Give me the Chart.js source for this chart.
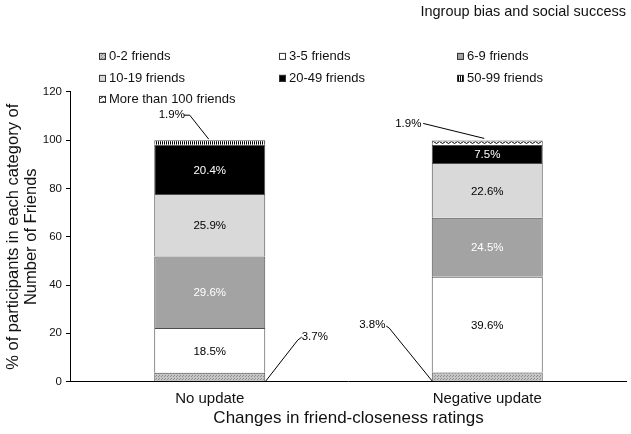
<!DOCTYPE html>
<html>
<head>
<meta charset="utf-8">
<script src="https://cdn.jsdelivr.net/npm/chart.js@4.4.0/dist/chart.umd.min.js"></script>
<style>
  html, body { margin: 0; padding: 0; background: #fff; }
  #wrap { width: 631px; height: 434px; }
</style>
</head>
<body>
<div id="wrap"><canvas id="friendsChart"></canvas></div>
<script>
// values (% of participants)
const categories = ['No update', 'Negative update'];
const groupNames = ['0-2 friends', '3-5 friends', '6-9 friends', '10-19 friends', '20-49 friends', '50-99 friends', 'More than 100 friends'];
const friends0to2 = [3.7, 3.8];
const friends3to5 = [18.5, 39.6];
const friends6to9 = [29.6, 24.5];
const friends10to19 = [25.9, 22.6];
const friends20to49 = [20.4, 7.5];
const friends50to99 = [1.9, 0];
const friends100plus = [0, 1.9];
const yTicks = [0, 20, 40, 60, 80, 100, 120];

const FONT = '"Liberation Sans", Arial, sans-serif';

function makePattern(w, h, draw) {
  const c = document.createElement('canvas');
  c.width = w; c.height = h;
  const g = c.getContext('2d');
  draw(g);
  return g.createPattern(c, 'repeat');
}

const stipple = makePattern(3, 3, g => {
  g.fillStyle = '#c6c6c6'; g.fillRect(0, 0, 3, 3);
  g.fillStyle = '#8c8c8c'; g.fillRect(0, 0, 1, 1); g.fillRect(2, 1, 1, 1);
});
const stripes = makePattern(2, 1, g => {
  g.fillStyle = '#fff'; g.fillRect(0, 0, 2, 1);
  g.fillStyle = '#000'; g.fillRect(0, 0, 1, 1);
});
const waves = makePattern(6, 5, g => {
  g.fillStyle = '#fff'; g.fillRect(0, 0, 6, 5);
  g.strokeStyle = '#000'; g.lineWidth = 1;
  g.beginPath();
  g.moveTo(0, 2.5);
  g.quadraticCurveTo(1.5, 0.5, 3, 2.5);
  g.quadraticCurveTo(4.5, 4.5, 6, 2.5);
  g.stroke();
});

const seriesValues = [friends0to2, friends3to5, friends6to9, friends10to19, friends20to49, friends50to99, friends100plus];
const fills = [stipple, '#ffffff', '#a3a3a3', '#d9d9d9', '#000000', stripes, waves];
const labelColors = ['#000', '#000', '#fff', '#000', '#fff', '#000', '#000'];

const datasets = groupNames.map((name, i) => ({
  label: name,
  data: seriesValues[i],
  backgroundColor: fills[i],
  borderColor: '#4d4d4d',
  borderWidth: c => (c.raw ? 1 : 0),
  stack: 'all',
  categoryPercentage: 0.8,
  barPercentage: 0.5
}));

// label offsets for the small segments that get a leader line
// anchor 'top' = top of segment, 'base' = bottom of segment
const callouts = {
  '0-0': { anchor: 'base', label: [105, -44], path: [[92, -44], [88, -41], [56, 0]] },
  '0-1': { anchor: 'base', label: [-115, -56], path: [[-101, -55], [-98, -53], [-55, 0]] },
  '5-0': { anchor: 'top', label: [-38, -25], path: [[-26, -25], [-20, -25], [-1, -1]] },
  '6-1': { anchor: 'top', label: [-79, -17], path: [[-64, -17], [-3, -2]] }
};

const segmentLabels = {
  id: 'segmentLabels',
  afterDatasetsDraw(chart) {
    const ctx = chart.ctx;
    ctx.save();
    ctx.font = '11.5px ' + FONT;
    ctx.textAlign = 'center';
    ctx.textBaseline = 'middle';
    chart.data.datasets.forEach((ds, di) => {
      const meta = chart.getDatasetMeta(di);
      meta.data.forEach((bar, i) => {
        const v = ds.data[i];
        if (!v) return;
        const text = v.toFixed(1) + '%';
        const co = callouts[di + '-' + i];
        if (!co) {
          ctx.fillStyle = labelColors[di];
          ctx.fillText(text, bar.x, (bar.y + bar.base) / 2 + 1);
          return;
        }
        const ay = co.anchor === 'top' ? bar.y : bar.base;
        ctx.fillStyle = '#000';
        ctx.fillText(text, bar.x + co.label[0], ay + co.label[1]);
        ctx.strokeStyle = '#000';
        ctx.lineWidth = 1;
        ctx.beginPath();
        co.path.forEach((p, k) => {
          const px = bar.x + p[0], py = ay + p[1];
          if (k === 0) ctx.moveTo(px, py); else ctx.lineTo(px, py);
        });
        ctx.stroke();
      });
    });
    ctx.restore();
  }
};

// three-column legend like the original figure
const gridLegend = {
  id: 'gridLegend',
  afterDraw(chart) {
    const ctx = chart.ctx;
    const area = chart.chartArea;
    const colX = [28, 208, 386];
    const rowY = [-35, -13, 8];
    ctx.save();
    ctx.font = '13px ' + FONT;
    ctx.textBaseline = 'middle';
    ctx.textAlign = 'left';
    chart.data.datasets.forEach((ds, i) => {
      const x = area.left + colX[i % 3];
      const y = area.top + rowY[Math.floor(i / 3)];
      ctx.fillStyle = ds.backgroundColor;
      ctx.fillRect(x, y - 4, 7, 7);
      ctx.strokeStyle = '#333';
      ctx.lineWidth = 1;
      ctx.strokeRect(x + 0.5, y - 3.5, 6, 6);
      ctx.fillStyle = '#111';
      ctx.fillText(ds.label, x + 10, y);
    });
    ctx.restore();
  }
};

new Chart(document.getElementById('friendsChart'), {
  type: 'bar',
  data: { labels: categories, datasets: datasets },
  plugins: [segmentLabels, gridLegend],
  options: {
    responsive: true,
    maintainAspectRatio: false,
    animation: false,
    layout: { padding: { left: 2, right: 5, top: 0, bottom: 5 } },
    plugins: {
      legend: { display: false },
      tooltip: { enabled: false },
      title: {
        display: true,
        text: 'Ingroup bias and social success',
        align: 'end',
        color: '#111',
        font: { family: FONT, size: 14.5, weight: 'normal' },
        padding: { top: 3, bottom: 71.5 }
      }
    },
    scales: {
      x: {
        stacked: true,
        grid: { display: false, drawTicks: false, tickLength: 0 },
        border: { display: true, color: '#000', width: 1 },
        ticks: { color: '#111', padding: 8, font: { family: FONT, size: 15 } },
        title: {
          display: true,
          text: 'Changes in friend-closeness ratings',
          color: '#111',
          font: { family: FONT, size: 17 },
          padding: { top: -7, bottom: 0 }
        }
      },
      y: {
        stacked: true,
        min: yTicks[0],
        max: yTicks[yTicks.length - 1],
        ticks: { stepSize: yTicks[1] - yTicks[0], color: '#111', padding: 4, font: { family: FONT, size: 11.5 } },
        grid: { display: true, drawOnChartArea: false, drawTicks: true, tickLength: 5, color: '#000' },
        border: { display: true, color: '#000', width: 1 },
        title: {
          display: true,
          text: ['% of participants in each category of', 'Number of Friends'],
          color: '#111',
          font: { family: FONT, size: 16.5, lineHeight: 1.07 },
          padding: { top: 2.5, bottom: -1 }
        }
      }
    }
  }
});
</script>
</body>
</html>
